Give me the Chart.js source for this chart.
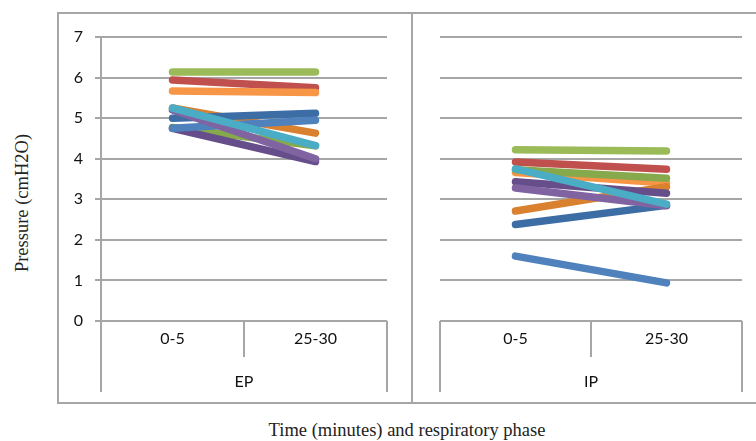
<!DOCTYPE html>
<html>
<head>
<meta charset="utf-8">
<script src="https://cdn.jsdelivr.net/npm/chart.js@4/dist/chart.umd.min.js"></script>
<style>
    body { margin: 0; background: #fff; }
    #page { position: relative; width: 756px; height: 441px; overflow: hidden; }
    #frame { position: absolute; left: 57px; top: 12px; width: 760px; height: 388px; border: 2px solid #a6a6a6; }
    #divider { position: absolute; left: 411px; top: 12px; width: 2px; height: 390px; background: #a6a6a6; }
    .panel { position: absolute; top: 12px; height: 390px; }
    #yTitle { position: absolute; left: 22px; top: 203px; transform: translate(-50%, -50%) rotate(-90deg);
        font: 18.5px "Liberation Serif", serif; color: #222; white-space: nowrap; }
    #xTitle { position: absolute; left: 407px; top: 430px; transform: translate(-50%, -50%);
        font: 18.5px "Liberation Serif", serif; color: #222; white-space: nowrap; }
</style>
</head>
<body>
<div id="page">
    <div id="frame"></div>
    <div id="divider"></div>
    <div class="panel" style="left:57px; width:355px;"><canvas id="epChart"></canvas></div>
    <div class="panel" style="left:413px; width:343px;"><canvas id="ipChart"></canvas></div>
    <div id="yTitle">Pressure (cmH2O)</div>
    <div id="xTitle">Time (minutes) and respiratory phase</div>
</div>
<script>
// Pressure per subject, expiratory (EP) and inspiratory (IP) phase
const categories = ['0-5', '25-30'];
const phases = ['EP', 'IP'];
const yTicks = [0, 1, 2, 3, 4, 5, 6, 7];

// first dataset is drawn on top
const seriesColors = ['#4BACC6', '#8064A2', '#4F81BD', '#3D6DA5', '#664E8A',
                      '#D9812F', '#86A94C', '#F79646', '#C0504D', '#9BBB59'];
const epStart = [5.25, 5.20, 4.75, 5.00, 4.75, 5.25, 4.77, 5.67, 5.94, 6.14];
const epEnd   = [4.32, 4.00, 4.95, 5.12, 3.93, 4.63, 4.32, 5.63, 5.75, 6.14];
const ipStart = [3.75, 3.28, 1.60, 2.38, 3.43, 2.71, 3.73, 3.66, 3.92, 4.22];
const ipEnd   = [2.88, 2.84, 0.94, 2.85, 3.15, 3.31, 3.52, 3.40, 3.74, 4.19];

const gridColor = '#a6a6a6';
const textColor = '#111';
const tickFont = { family: 'Lato', size: 16 };

// category dividers below the plot, like the Excel multi-level axis
const separators = {
    id: 'separators',
    afterDraw(chart, args, opts) {
        const { ctx, chartArea: a } = chart;
        const mid = (a.left + a.right) / 2;
        ctx.save();
        ctx.strokeStyle = gridColor;
        ctx.lineWidth = 2;
        ctx.beginPath();
        ctx.moveTo(a.left, opts.fullLeft ? a.top : a.bottom);
        ctx.lineTo(a.left, a.bottom + 71);
        ctx.moveTo(mid, a.bottom);
        ctx.lineTo(mid, a.bottom + 36);
        ctx.moveTo(a.right, a.bottom);
        ctx.lineTo(a.right, a.bottom + 71);
        ctx.stroke();
        ctx.restore();
    }
};

function makeChart(id, phase, starts, ends, isLeft) {
    const ctx = document.getElementById(id).getContext('2d');
    return new Chart(ctx, {
        type: 'line',
        data: {
            labels: categories,
            datasets: starts.map((s, i) => ({
                data: [s, ends[i]],
                borderColor: seriesColors[i],
                borderWidth: 7.5,
                borderCapStyle: 'round',
                pointRadius: 0,
                tension: 0
            }))
        },
        options: {
            responsive: true,
            maintainAspectRatio: false,
            animation: false,
            layout: { padding: { left: 0, right: isLeft ? 25 : 14, top: 25, bottom: 0 } },
            plugins: {
                legend: { display: false },
                tooltip: { enabled: false },
                separators: { fullLeft: isLeft }
            },
            scales: {
                x: {
                    offset: true,
                    grid: { display: false },
                    border: { display: false },
                    ticks: { font: tickFont, color: textColor, padding: 0 },
                    title: { display: true, text: phase, font: tickFont, color: textColor, padding: { top: 0, bottom: 11 } },
                    afterFit: s => { s.height = 81; }
                },
                y: {
                    min: 0,
                    max: 7,
                    afterBuildTicks: s => { s.ticks = yTicks.map(v => ({ value: v })); },
                    grid: { color: gridColor, lineWidth: 2, drawTicks: isLeft, tickLength: 6 },
                    border: { display: isLeft, color: gridColor, width: 2 },
                    ticks: { display: isLeft, font: tickFont, color: textColor, padding: 12 },
                    afterFit: s => { s.width = isLeft ? 44 : 27; }
                }
            }
        },
        plugins: [separators]
    });
}

makeChart('epChart', phases[0], epStart, epEnd, true);
makeChart('ipChart', phases[1], ipStart, ipEnd, false);
</script>
</body>
</html>
